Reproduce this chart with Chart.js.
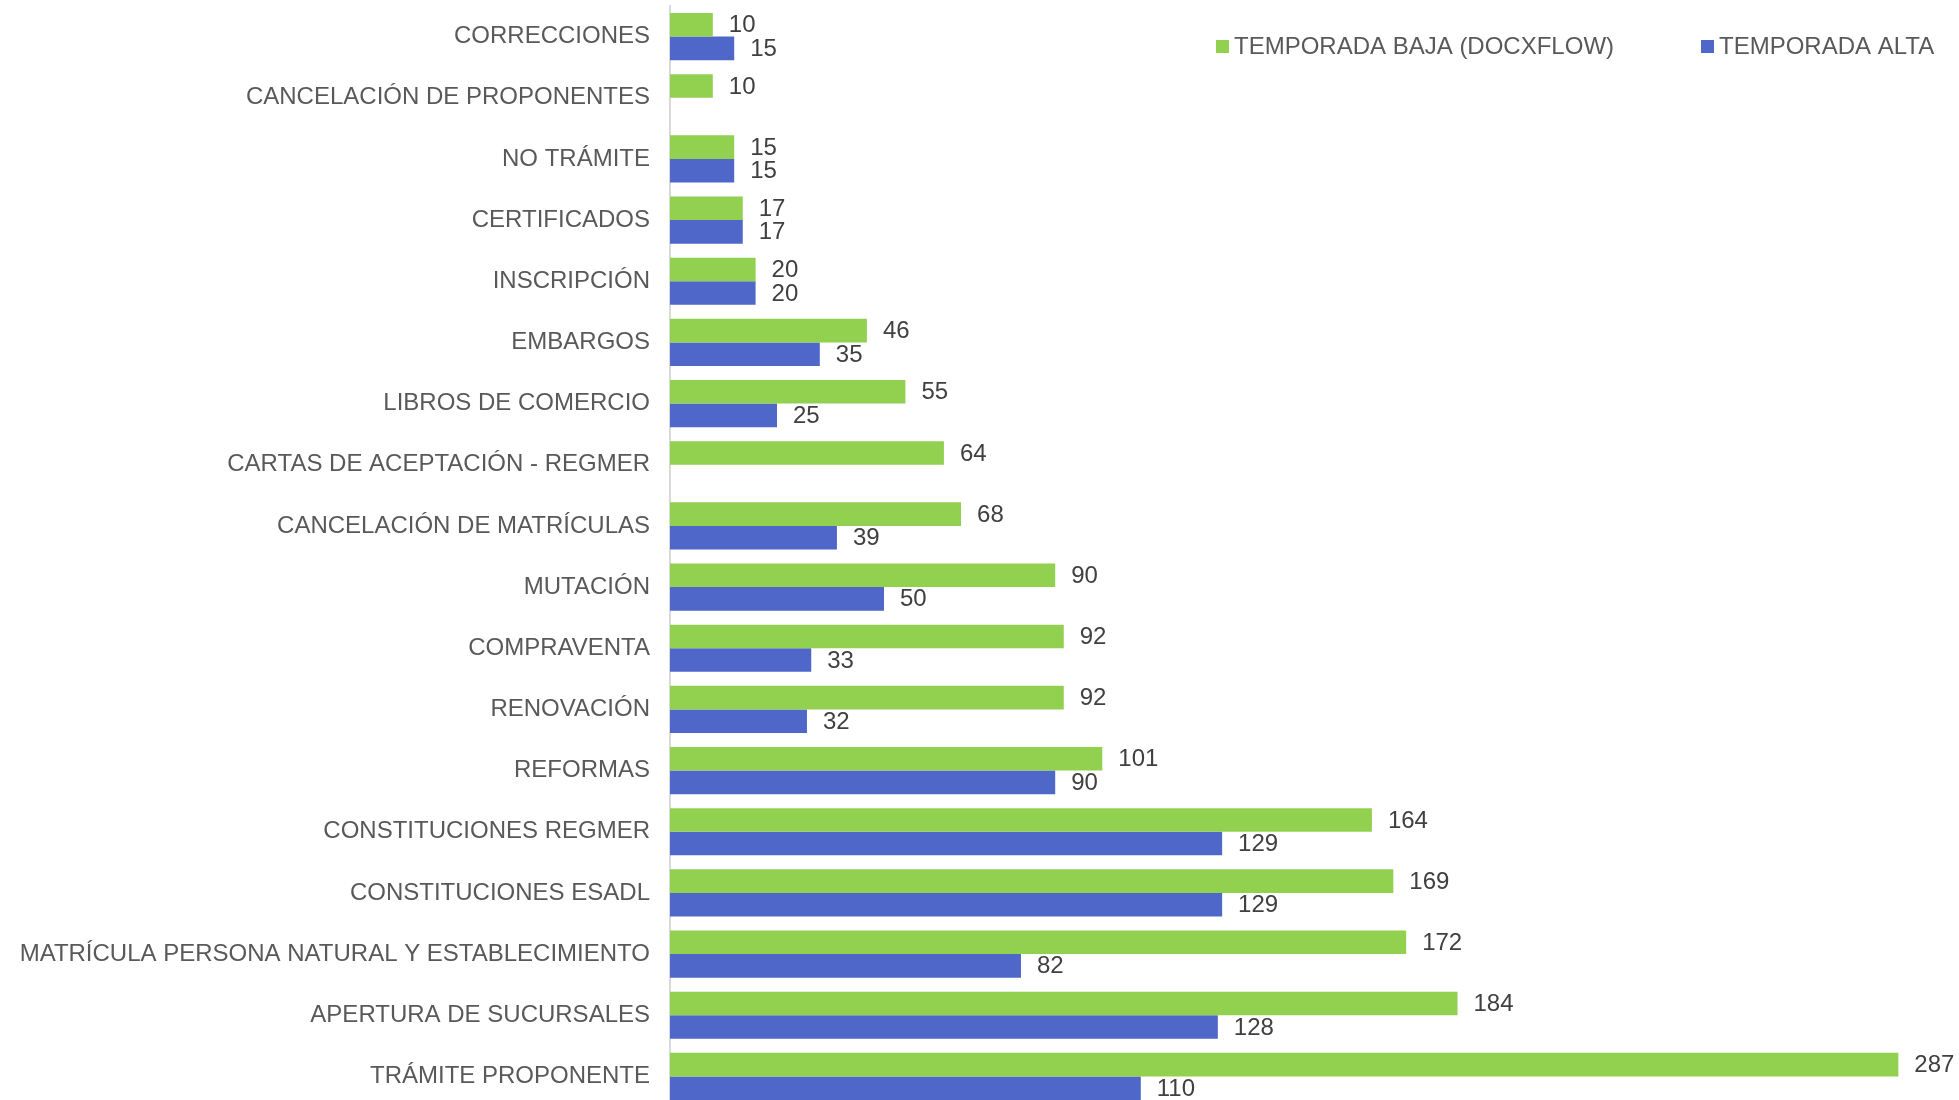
<!DOCTYPE html>
<html>
<head>
<meta charset="utf-8">
<script src="https://cdn.jsdelivr.net/npm/chart.js@4.4.1/dist/chart.umd.min.js"></script>
<style>
  html, body { margin: 0; padding: 0; background: #ffffff; overflow: hidden; }
  canvas { display: block; }
</style>
</head>
<body>
<canvas id="chart" width="1959" height="1107"></canvas>
<script>
// categories, top to bottom
const categories = [
  'CORRECCIONES',
  'CANCELACIÓN DE PROPONENTES',
  'NO TRÁMITE',
  'CERTIFICADOS',
  'INSCRIPCIÓN',
  'EMBARGOS',
  'LIBROS DE COMERCIO',
  'CARTAS DE ACEPTACIÓN - REGMER',
  'CANCELACIÓN DE MATRÍCULAS',
  'MUTACIÓN',
  'COMPRAVENTA',
  'RENOVACIÓN',
  'REFORMAS',
  'CONSTITUCIONES REGMER',
  'CONSTITUCIONES ESADL',
  'MATRÍCULA PERSONA NATURAL Y ESTABLECIMIENTO',
  'APERTURA DE SUCURSALES',
  'TRÁMITE PROPONENTE'
];

const seriesNames = ['TEMPORADA BAJA (DOCXFLOW)', 'TEMPORADA ALTA'];

const temporadaBaja = [10, 10, 15, 17, 20, 46, 55, 64, 68, 90, 92, 92, 101, 164, 169, 172, 184, 287];
const temporadaAlta = [15, null, 15, 17, 20, 35, 25, null, 39, 50, 33, 32, 90, 129, 129, 82, 128, 110];

const colorBaja = '#92D050';
const colorAlta = '#4E67C8';
const textFont = '"Liberation Sans", Arial, sans-serif';

// value labels drawn just after the end of each bar
const valueLabels = {
  id: 'valueLabels',
  afterDatasetsDraw(chart) {
    const ctx = chart.ctx;
    ctx.save();
    ctx.font = '24px ' + textFont;
    ctx.fillStyle = '#404040';
    ctx.textAlign = 'left';
    ctx.textBaseline = 'middle';
    chart.data.datasets.forEach((ds, i) => {
      const meta = chart.getDatasetMeta(i);
      meta.data.forEach((bar, j) => {
        const v = ds.data[j];
        if (v === null || v === undefined) return;
        ctx.fillText(String(v), bar.x + 16, bar.y + 1);
      });
    });
    ctx.restore();
  }
};

// legend in the top right corner, like the original
const cornerLegend = {
  id: 'cornerLegend',
  afterDraw(chart) {
    const ctx = chart.ctx;
    const y = 46;
    const starts = [1216, 1701];
    ctx.save();
    ctx.font = '24px ' + textFont;
    ctx.textBaseline = 'middle';
    chart.data.datasets.forEach((ds, i) => {
      ctx.fillStyle = ds.backgroundColor;
      ctx.fillRect(starts[i], y - 6, 13, 13);
      ctx.fillStyle = '#595959';
      ctx.fillText(ds.label, starts[i] + 18, y + 1);
    });
    ctx.restore();
  }
};

new Chart(document.getElementById('chart'), {
  type: 'bar',
  data: {
    labels: categories,
    datasets: [
      {
        label: seriesNames[0],
        data: temporadaBaja,
        backgroundColor: colorBaja,
        borderWidth: 0,
        categoryPercentage: 0.77,
        barPercentage: 1.0
      },
      {
        label: seriesNames[1],
        data: temporadaAlta,
        backgroundColor: colorAlta,
        borderWidth: 0,
        categoryPercentage: 0.77,
        barPercentage: 1.0
      }
    ]
  },
  options: {
    indexAxis: 'y',
    responsive: false,
    animation: false,
    devicePixelRatio: 1,
    layout: { padding: { top: 6, right: 5, bottom: 0, left: 0 } },
    scales: {
      x: {
        display: false,
        min: 0,
        max: 300
      },
      y: {
        grid: { display: false, drawTicks: false },
        border: { display: true, color: '#D9D9D9', width: 2 },
        ticks: {
          color: '#595959',
          font: { family: textFont, size: 24 },
          padding: 20,
          autoSkip: false
        },
        afterFit(scale) {
          scale.width = 670;
          // no extra room above/below for the first and last labels
          scale.paddingTop = 0;
          scale.paddingBottom = 0;
        }
      }
    },
    plugins: {
      legend: { display: false },
      tooltip: { enabled: false }
    }
  },
  plugins: [valueLabels, cornerLegend]
});
</script>
</body>
</html>
